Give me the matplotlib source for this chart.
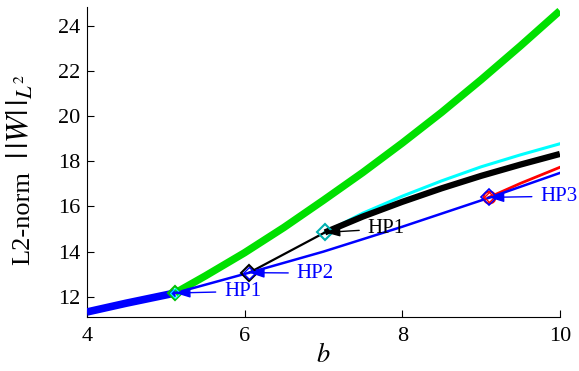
import matplotlib
matplotlib.use("Agg")
import matplotlib.pyplot as plt
import numpy as np

plt.rcParams['font.family'] = ['Liberation Serif', 'DejaVu Serif']
plt.rcParams['mathtext.fontset'] = 'stix'

# branch data
b_blue_thick = [4.0, 4.5, 5.12]
w_blue_thick = [11.33, 11.72, 12.17]

b_blue = [5.12, 6.06, 7.0, 8.0, 9.1, 10.0]
w_blue = [12.17, 13.07, 14.0, 15.1, 16.38, 17.48]

b_green = [5.12, 5.5, 6.0, 6.5, 7.0, 7.5, 8.0, 8.5, 9.0, 9.5, 10.0]
w_green = [12.17, 12.92, 13.95, 15.07, 16.27, 17.5, 18.8, 20.16, 21.6, 23.1, 24.65]

b_black_thin = [6.06, 7.02]
w_black_thin = [13.07, 14.85]

b_black = [7.02, 7.5, 8.0, 8.5, 9.0, 9.5, 10.0]
w_black = [14.85, 15.55, 16.2, 16.8, 17.35, 17.85, 18.32]

b_cyan = [7.02, 7.5, 8.0, 8.5, 9.0, 9.5, 10.0]
w_cyan = [14.85, 15.7, 16.45, 17.13, 17.75, 18.28, 18.77]

b_red = [9.1, 9.5, 10.0]
w_red = [16.4, 17.02, 17.73]

# bifurcation points and their labels
hp_b = [5.12, 6.06, 7.02, 9.1]
hp_w = [12.17, 13.07, 14.85, 16.4]
hp_labels = ['HP1', 'HP2', 'HP1', 'HP3']
hp_text_b = [5.74, 6.66, 7.56, 9.75]
hp_text_w = [12.24, 13.05, 15.01, 16.45]
hp_colors = ['blue', 'blue', 'black', 'blue']

fig = plt.figure(figsize=(5.79, 3.71), dpi=100)
ax = fig.add_axes([0.150, 0.145, 0.817, 0.835])

ax.plot(b_green, w_green, color='#00e000', lw=5.4, solid_capstyle='butt', zorder=2)
ax.plot(b_cyan, w_cyan, color='cyan', lw=2.2, zorder=2)
ax.plot(b_black, w_black, color='black', lw=4.5, solid_capstyle='butt', zorder=3)
ax.plot(b_black_thin, w_black_thin, color='black', lw=1.6, zorder=3)
ax.plot(b_red, w_red, color='red', lw=2.0, zorder=3)
ax.plot(b_blue, w_blue, color='blue', lw=1.8, zorder=3)
ax.plot(b_blue_thick, w_blue_thick, color='blue', lw=5.5, solid_capstyle='butt', zorder=3)

# markers at the bifurcation points
ax.plot(hp_b[0], hp_w[0], 'D', ms=7.5, mfc='none', mec='#00c000', mew=1.5, zorder=5)
ax.plot(hp_b[0], hp_w[0], 'D', ms=5, mfc='none', mec='cyan', mew=0.8, zorder=5)
ax.plot(hp_b[1], hp_w[1], 'D', ms=8, mfc='none', mec='black', mew=1.5, zorder=5)
ax.plot(hp_b[1], hp_w[1], 'D', ms=6, mfc='none', mec='blue', mew=1.0, zorder=5)
ax.plot(hp_b[2], hp_w[2], 'D', ms=8, mfc='none', mec='#00b0b0', mew=1.5, zorder=5)
ax.plot(hp_b[3], hp_w[3], 'o', ms=8.5, mfc='none', mec='red', mew=1.5, zorder=5)
ax.plot(hp_b[3], hp_w[3], 'D', ms=8, mfc='none', mec='blue', mew=1.2, zorder=5)
ax.plot(hp_b[3], hp_w[3], 'D', ms=5.5, mfc='none', mec='red', mew=1.0, zorder=5)

for x, y, lab, tx, ty, c in zip(hp_b, hp_w, hp_labels, hp_text_b, hp_text_w, hp_colors):
    ax.annotate(lab, xy=(x, y), xytext=(tx, ty), color=c, fontsize=15,
                ha='left', va='center', annotation_clip=False,
                arrowprops=dict(arrowstyle='-|>,head_length=0.6,head_width=0.2',
                                color=c, lw=1.0, shrinkA=4, shrinkB=0),
                zorder=6)

ax.set_xlim(4, 10)
ax.set_ylim(11.1, 24.8)
ax.set_xticks([4, 6, 8, 10])
ax.set_yticks([12, 14, 16, 18, 20, 22, 24])
ax.tick_params(direction='in', length=5, width=0.8, labelsize=16)
ax.tick_params(axis='y', pad=5)
ax.tick_params(axis='x', pad=7)
for s in ['top', 'right']:
    ax.spines[s].set_visible(False)
for s in ['left', 'bottom']:
    ax.spines[s].set_linewidth(0.8)

ax.set_xlabel('$b$', fontsize=19, labelpad=-2)

# y label in two parts: plain text and the norm symbol
fig.text(0.040, 0.286, 'L2-norm', rotation=90, fontsize=19,
         ha='center', va='bottom')
fig.text(0.036, 0.572, r'$|\,|W|\,|_{L^2}$', rotation=90, fontsize=23,
         ha='center', va='bottom')

fig.savefig('out.png', dpi=100)
